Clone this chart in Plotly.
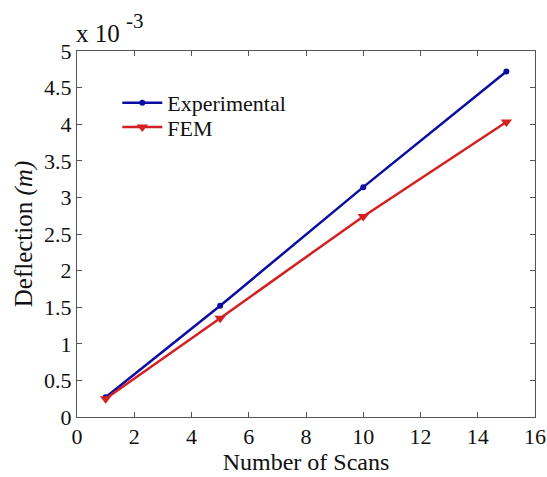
import plotly.graph_objects as go

scans = [1, 5, 10, 15]
experimental = [0.27, 1.52, 3.14, 4.72]
fem = [0.25, 1.35, 2.74, 4.03]
x_ticks = [0, 2, 4, 6, 8, 10, 12, 14, 16]
y_ticks = [0, 0.5, 1, 1.5, 2, 2.5, 3, 3.5, 4, 4.5, 5]
y_tick_text = ["0", "0.5", "1", "1.5", "2", "2.5", "3", "3.5", "4", "4.5", "5"]

font_family = "Liberation Serif, Times New Roman, serif"
blue = "#0c0ca0"
red = "#d42020"

fig = go.Figure()
fig.add_trace(go.Scatter(
    x=scans, y=experimental, mode="lines+markers", name="Experimental",
    line=dict(color=blue, width=2.5),
    marker=dict(symbol="circle", size=6, color=blue),
    legend="legend",
))
fig.add_trace(go.Scatter(
    x=scans, y=fem, mode="lines+markers", name="FEM",
    line=dict(color=red, width=2.5),
    marker=dict(symbol="triangle-down", size=10, color=red),
    legend="legend2",
))

axis_common = dict(
    showline=True, linecolor="#555555", linewidth=1, mirror="ticks",
    ticks="inside", ticklen=5, tickcolor="#555555", showgrid=False,
    zeroline=False, tickfont=dict(family=font_family, size=22, color="#111111"),
    ticklabeloverflow="allow", automargin=False,
)

legend_common = dict(
    xanchor="left", yanchor="middle", bgcolor="rgba(0,0,0,0)",
    font=dict(family=font_family, size=22, color="#111111"), itemwidth=40,
)

fig.update_layout(
    width=547, height=477,
    margin=dict(l=77, r=12, t=51, b=60),
    paper_bgcolor="white", plot_bgcolor="white",
    font=dict(family=font_family, size=22, color="#111111"),
    xaxis=dict(range=[0, 16], tickvals=x_ticks,
               title=dict(text="Number of Scans", font=dict(size=24), standoff=4),
               **axis_common),
    yaxis=dict(range=[0, 5], tickvals=y_ticks, ticktext=y_tick_text,
               title=dict(text="Deflection <i>(m)</i>", font=dict(size=25), standoff=4),
               **axis_common),
    legend=dict(x=0.088, y=0.858, **legend_common),
    legend2=dict(x=0.088, y=0.792, **legend_common),
    showlegend=True,
)

fig.add_annotation(
    text="x 10", xref="paper", yref="paper",
    x=-0.006, y=1.049, xanchor="left", yanchor="middle",
    showarrow=False, font=dict(family=font_family, size=25, color="#111111"),
)
fig.add_annotation(
    text="-3", xref="paper", yref="paper",
    x=0.126, y=1.083, xanchor="center", yanchor="middle",
    showarrow=False, font=dict(family=font_family, size=21, color="#111111"),
)

fig.write_html("out.html")
